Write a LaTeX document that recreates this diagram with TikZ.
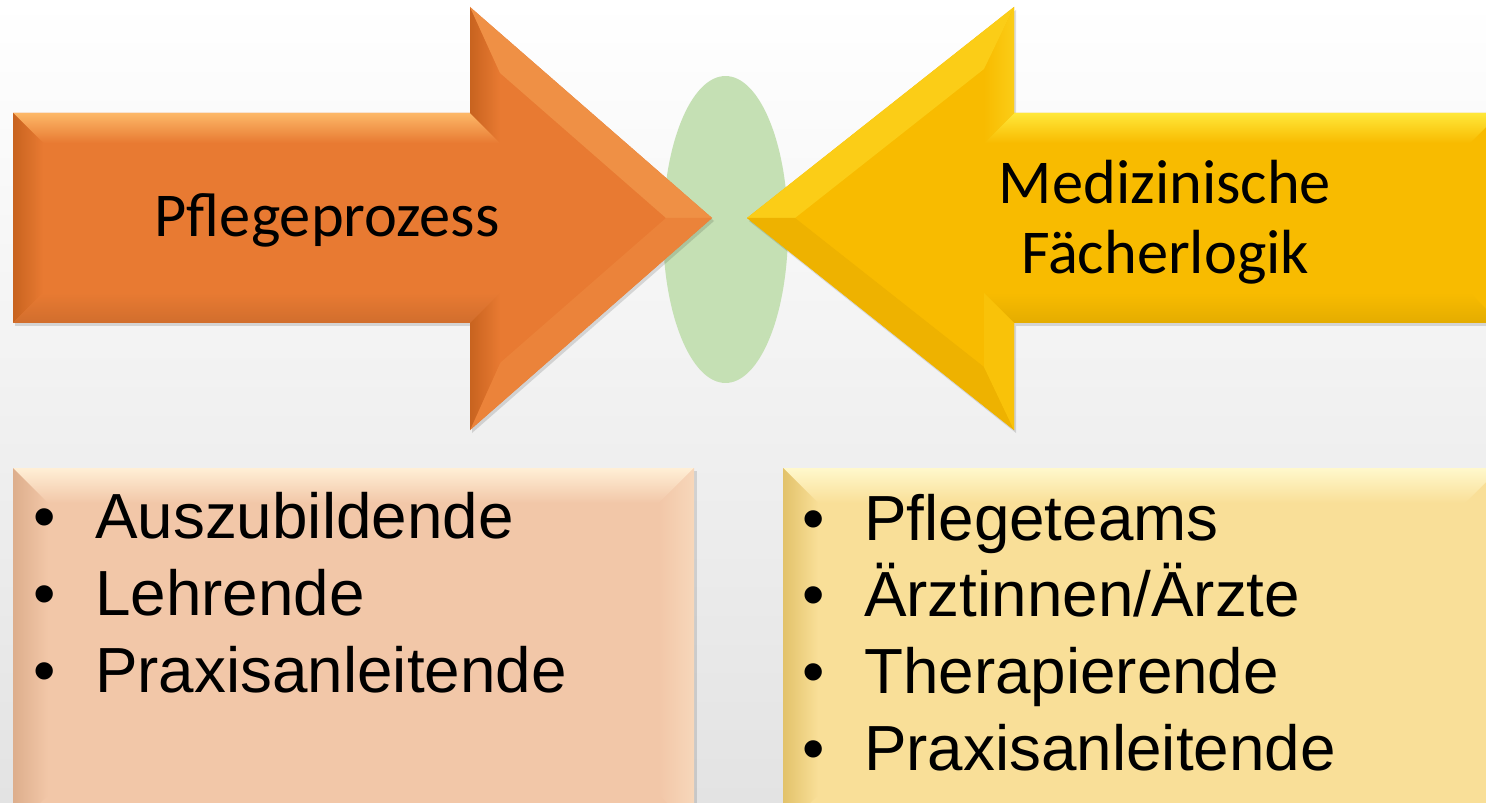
\documentclass[tikz,border=0pt]{standalone}
\usepackage{fontspec}
\setmainfont{Liberation Sans}
\newfontfamily\carlito{Carlito}
\usetikzlibrary{shapes.geometric}

\definecolor{orgmain}{HTML}{E87A32}
\definecolor{orghi}{HTML}{FDB868}
\definecolor{orglo}{HTML}{C8631F}
\definecolor{ylwmain}{HTML}{F8BB00}
\definecolor{ylwhi}{HTML}{FFE83A}
\definecolor{ylwlo}{HTML}{DDA200}
\definecolor{meetgreen}{HTML}{C5E0B4}
\definecolor{peach}{HTML}{F2C7A8}
\definecolor{peachhi}{HTML}{FFEFD6}
\definecolor{peachlo}{HTML}{DDAE8C}
\definecolor{sand}{HTML}{F9DF98}
\definecolor{sandhi}{HTML}{FFF8CC}
\definecolor{sandlo}{HTML}{E2C26A}

\newcommand{\arrfont}{\carlito\fontsize{35.5pt}{39.7pt}\selectfont}
\newcommand{\lstfont}{\fontsize{36.3pt}{43.6pt}\selectfont}
\newcommand{\bul}{\makebox[35.2pt][l]{•}}
\newcommand{\itn}{\node[anchor=base west, inner sep=0pt, font=\lstfont]}
\newcommand{\lbl}{\node[inner sep=0pt, font=\arrfont, align=center]}
\newcommand{\facet}[2]{\shade[#1] #2 -- cycle;}
\newcommand{\plainfacet}[2]{\fill[#1] #2 -- cycle;}

\begin{document}
\begin{tikzpicture}[x=0.02cm, y=-0.02cm]
  \useasboundingbox (0,0) rectangle (1486,803);
  \clip (0,0) rectangle (1486,803);
  \shade[top color=white, bottom color=black!11] (0,0) rectangle (1486,803);

  \node[ellipse, fill=meetgreen, minimum width=2.5cm, minimum height=6.14cm, inner sep=0pt] (meet) at (725.5,229.5) {};

  % Pflegeprozess arrow
  \fill[black, opacity=0.13] (15,116) -- (472,116) -- (472,10) -- (714,221) -- (472,433) -- (472,326) -- (15,326) -- cycle;
  \fill[orgmain] (13,113) -- (470,113) -- (470,7) -- (712,218) -- (470,430) -- (470,323) -- (13,323) -- cycle;
  \facet{top color=orghi, bottom color=orgmain}{(13,113) -- (470,113) -- (500,143) -- (43,143)}
  \facet{left color=orglo, right color=orgmain}{(13,113) -- (43,143) -- (43,293) -- (13,323)}
  \facet{top color=orgmain, bottom color=orgmain!90!black}{(13,323) -- (470,323) -- (500,293) -- (43,293)}
  \facet{left color=orglo, right color=orgmain}{(470,113) -- (470,7) -- (500,73) -- (500,143)}
  \plainfacet{orghi!35!orgmain}{(470,7) -- (712,218) -- (666,218) -- (500,73)}
  \plainfacet{orghi!15!orgmain}{(712,218) -- (470,430) -- (500,363) -- (666,218)}
  \facet{left color=orglo, right color=orgmain}{(470,430) -- (470,323) -- (500,293) -- (500,363)}

  % Faecherlogik arrow
  \fill[black, opacity=0.13] (1502,116) -- (1016,116) -- (1016,10) -- (749,221) -- (1016,433) -- (1016,326) -- (1502,326) -- cycle;
  \fill[ylwmain] (1500,113) -- (1014,113) -- (1014,7) -- (747,218) -- (1014,430) -- (1014,323) -- (1500,323) -- cycle;
  \facet{top color=ylwhi, bottom color=ylwmain}{(1500,113) -- (1014,113) -- (984,143) -- (1470,143)}
  \facet{top color=ylwmain, bottom color=ylwmain!92!black}{(1014,323) -- (1500,323) -- (1470,293) -- (984,293)}
  \facet{left color=ylwmain, right color=ylwhi!40!ylwmain}{(1014,113) -- (1014,7) -- (984,69) -- (984,143)}
  \plainfacet{ylwhi!40!ylwmain}{(1014,7) -- (747,218) -- (795,218) -- (984,69)}
  \plainfacet{ylwlo!35!ylwmain}{(747,218) -- (1014,430) -- (984,367) -- (795,218)}
  \plainfacet{ylwmain!85!ylwhi}{(1014,430) -- (1014,323) -- (984,293) -- (984,367)}

  % boxes
  \fill[black, opacity=0.12] (15,471) rectangle (697,830);
  \fill[peach] (13,468) rectangle (694,830);
  \facet{top color=peachhi, bottom color=peach}{(13,468) -- (694,468) -- (659,503) -- (48,503)}
  \facet{left color=peachlo, right color=peach}{(13,468) -- (48,503) -- (48,795) -- (13,830)}
  \facet{left color=peach, right color=peach!60!peachhi}{(694,468) -- (694,830) -- (659,795) -- (659,503)}

  \fill[black, opacity=0.12] (785,471) rectangle (1502,830);
  \fill[sand] (783,468) rectangle (1500,830);
  \facet{top color=sandhi, bottom color=sand}{(783,468) -- (1500,468) -- (1465,503) -- (818,503)}
  \facet{left color=sandlo, right color=sand}{(783,468) -- (818,503) -- (818,795) -- (783,830)}

  \lbl[anchor=base] (pfl) at (327,237) {Pflegeprozess};
  \lbl (med) at (1165,222) {Medizinische\\Fächerlogik};

  \itn (a1) at (33,538) {\bul Auszubildende};
  \itn (a2) at (33,615) {\bul Lehrende};
  \itn (a3) at (33,692) {\bul Praxisanleitende};

  \itn (b1) at (802,540) {\bul Pflegeteams};
  \itn (b2) at (802,616) {\bul Ärztinnen/Ärzte};
  \itn (b3) at (802,693) {\bul Therapierende};
  \itn (b4) at (802,770) {\bul Praxisanleitende};
\end{tikzpicture}
\end{document}
